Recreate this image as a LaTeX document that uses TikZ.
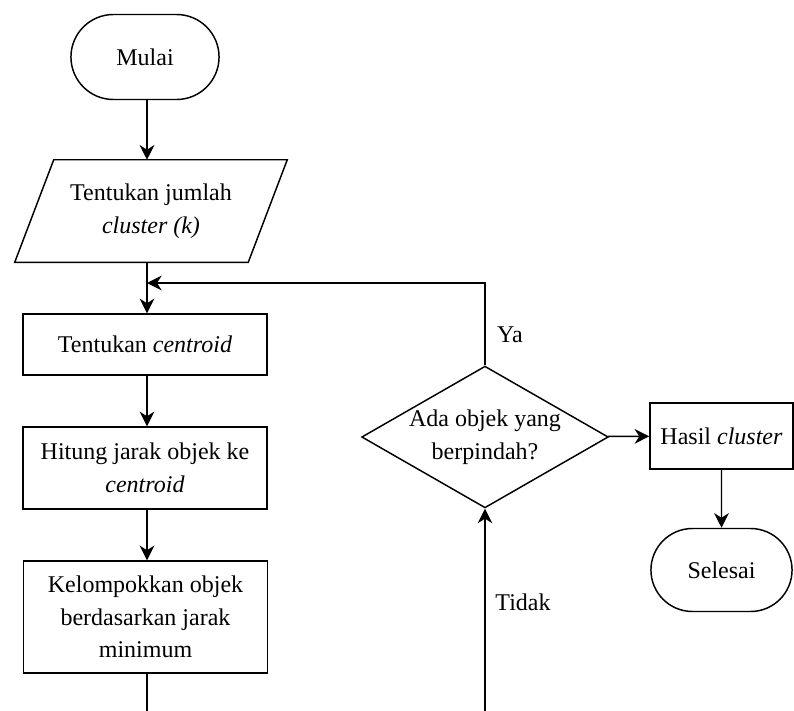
\documentclass[tikz,border=0pt]{standalone}
\usepackage{fontspec}
\setmainfont{LiberationSerif}[Extension=.ttf, UprightFont=*-Regular, ItalicFont=*-Italic, BoldFont=*-Bold, BoldItalicFont=*-BoldItalic]
\usetikzlibrary{shapes.geometric, shapes.misc, arrows.meta, positioning, calc}

\begin{document}
\begin{tikzpicture}[x=0.75pt, y=-0.75pt,
    font=\fontsize{18}{24.5}\selectfont,
    terminal/.style={draw, line width=1.1pt, rounded rectangle, align=center},
    process/.style={draw, line width=1.1pt, rectangle, minimum width=183pt, align=center},
    flow/.style={line width=1.1pt, -{Stealth[length=11pt, width=11pt, inset=3.5pt]}},
    boldflow/.style={flow, line width=1.8pt}]
\useasboundingbox (0,0) rectangle (794,711);
% Start and input
\node[terminal, minimum width=117.75pt, minimum height=63.75pt] (mulai) at (145,57) {Mulai};
\node[minimum width=174.75pt, minimum height=76.5pt, align=center]
      (input) at (151,211) {Tentukan jumlah\\\textit{cluster (k)}};
\draw[line width=1.1pt] ($(input.north west)+(19.5,0)$) -- ($(input.north east)+(19.5,0)$)
      -- ($(input.south east)+(-19.5,0)$) -- ($(input.south west)+(-19.5,0)$) -- cycle;
\coordinate (join) at (147,283);
% Main steps
\node[process, minimum height=45.75pt] (centroid) at (145,344.5) {Tentukan \textit{centroid}};
\node[process, minimum height=61.5pt] (jarak) at (145,468) {Hitung jarak objek ke\\\textit{centroid}};
\node[process, minimum height=84pt] (kelompok) at (145.5,617) {Kelompokkan objek\\berdasarkan jarak\\minimum};
\coordinate (kelbawah) at (147,711);
% Decision and end
\node[draw, line width=1.1pt, diamond, aspect=1.74, minimum width=183pt, minimum height=105pt, inner sep=0pt, align=center]
      (pindah) at (485,437) {Ada objek yang\\berpindah?};
\node[draw, line width=1.1pt, rectangle, minimum width=107.25pt, minimum height=49.5pt] (hasil) at (721.5,436) {Hasil \textit{cluster}};
\node[terminal, minimum width=112.5pt, minimum height=62.25pt] (selesai) at (721.5,570) {Selesai};
\coordinate (tidakbawah) at (485,711);
% Connectors
\draw[boldflow] (mulai.south -| join) -- (join |- input.north);
\draw[line width=1.8pt] (join |- input.south) -- (join);
\draw[flow] (join) -- (join |- centroid.north);
\draw[flow] (centroid.south -| join) -- (join |- jarak.north);
\draw[boldflow] (jarak.south -| join) -- (join |- kelompok.north);
\draw[line width=1.8pt] (kelompok.south -| join) -- (kelbawah);
\draw[flow] (pindah.north) |- (join);
\draw[flow] (tidakbawah) -- (pindah.south);
\draw[flow] (pindah) -- (hasil);
\draw[flow] (hasil) -- (selesai);
\node at (510,335) {Ya};
\node at (523,602) {Tidak};
\end{tikzpicture}
\end{document}
